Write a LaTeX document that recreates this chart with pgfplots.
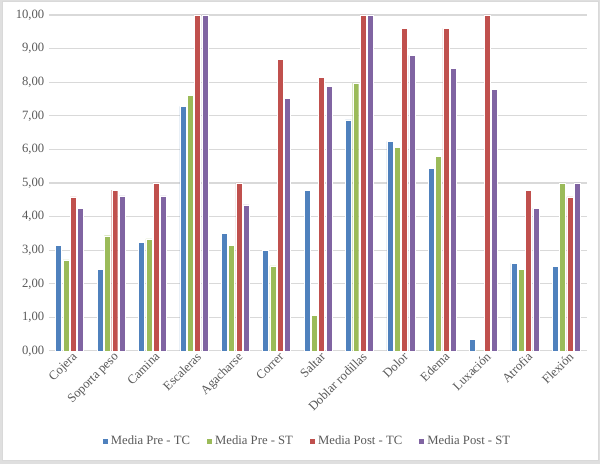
\documentclass[border=0pt]{standalone}
\usepackage{pgfplots}
\pgfplotsset{compat=1.18}
\usepackage{fontspec}
\setmainfont{Liberation Serif}
\definecolor{cblue}{HTML}{4F81BD}
\definecolor{cgreen}{HTML}{9BBB59}
\definecolor{cred}{HTML}{C0504D}
\definecolor{cpurple}{HTML}{8064A2}
\definecolor{txt}{HTML}{595959}
\definecolor{gridc}{HTML}{D9D9D9}
\begin{document}
\begin{tikzpicture}
\fill[gray!25] (0,0) rectangle (450pt,348pt);
\fill[white] (1.5pt,3pt) rectangle (448.5pt,347pt);
\draw[gray!30,line width=0.6pt] (1.5pt,3pt) rectangle (448.5pt,347.2pt);
\useasboundingbox (0,0) rectangle (450pt,348pt);
\begin{axis}[
  at={(36.75pt,84.75pt)}, anchor=south west,
  scale only axis, width=403.5pt, height=252pt,
  ybar=1pt, bar width=4.5pt,
  ymin=0, ymax=10, ytick={0,1,...,10},
  xmin=-0.5, xmax=12.5,
  xtick={0,...,12},
  xticklabels={Cojera,Soporta peso,Camina,Escaleras,Agacharse,Correr,Saltar,Doblar rodillas,Dolor,Edema,Luxación,Atrofia,Flexión},
  x tick label style={rotate=45, anchor=north east, font=\fontsize{9.5}{10}\selectfont, text=txt, inner sep=1pt, xshift=2pt},
  y tick label style={font=\fontsize{9.5}{10}\selectfont, text=txt},
  /pgf/number format/assume math mode=true,
  yticklabel={\pgfmathprintnumber[fixed,fixed zerofill,precision=2,use comma]{\tick}},
  xmajorgrids=false, ymajorgrids=false,
  major tick length=0pt,
  axis line style={draw=none},
  legend style={at={(axis description cs:0.48,-0.268)}, anchor=center, draw=none,
    legend columns=4, font=\fontsize{9.5}{10}\selectfont, text=txt,
    /tikz/every even column/.append style={column sep=10pt}},
  legend image code/.code={\fill[#1] (0pt,-2.3pt) rectangle (4.6pt,2.3pt);},
]
\pgfplotsinvokeforeach{0,...,10}{\draw[gridc, line width=0.8pt] (axis cs:-0.5,#1) -- (axis cs:12.5,#1);}
\addplot[fill=cblue, draw=white, line width=0.3pt] coordinates {(0,3.15) (1,2.42) (2,3.23) (3,7.28) (4,3.51) (5,2.99) (6,4.78) (7,6.88) (8,6.24) (9,5.43) (10,0.34) (11,2.61) (12,2.52)};
\addplot[fill=cgreen, draw=white, line width=0.3pt] coordinates {(0,2.71) (1,3.43) (2,3.34) (3,7.61) (4,3.15) (5,2.53) (6,1.06) (7,7.98) (8,6.06) (9,5.79) (10,0) (11,2.42) (12,5.00)};
\addplot[fill=cred, draw=white, line width=0.3pt] coordinates {(0,4.59) (1,4.79) (2,5.00) (3,10) (4,5.00) (5,8.69) (6,8.15) (7,10) (8,9.60) (9,9.60) (10,10) (11,4.78) (12,4.59)};
\addplot[fill=cpurple, draw=white, line width=0.3pt] coordinates {(0,4.25) (1,4.62) (2,4.62) (3,10) (4,4.35) (5,7.52) (6,7.88) (7,10) (8,8.80) (9,8.42) (10,7.79) (11,4.25) (12,5.00)};
\legend{Media Pre - TC, Media Pre - ST, Media Post - TC, Media Post - ST}
\end{axis}
\end{tikzpicture}
\end{document}
